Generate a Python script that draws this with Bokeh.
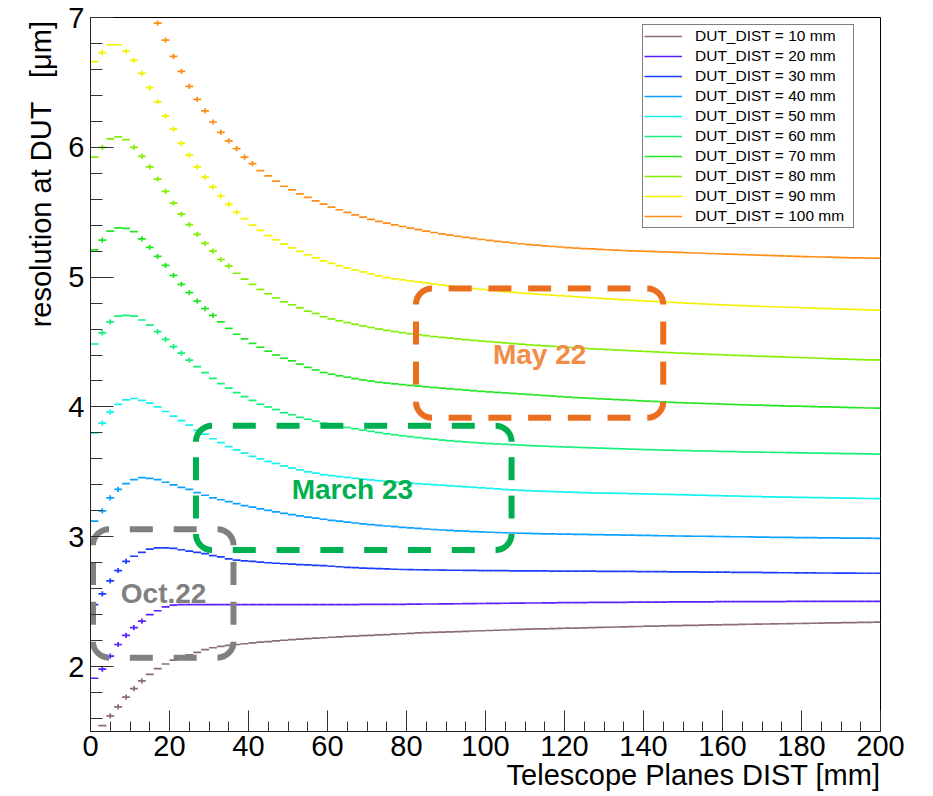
import numpy as np
from bokeh.plotting import figure
from bokeh.models import (FixedTicker, Legend, LegendItem, Label,
                          ColumnDataSource, Title)
from bokeh.embed import file_html
from bokeh.resources import INLINE

# ---------------- data ----------------
dut_dist = [10, 20, 30, 40, 50, 60, 70, 80, 90, 100]
series_labels = [f"DUT_DIST = {d} mm" for d in dut_dist]
bin_width = 2
first_bin = [3, 1, 1, 1, 1, 1, 1, 1, 1, 17]   # centre of first visible bin [mm]

res_10 = [1.546, 1.62, 1.69, 1.765, 1.83, 1.89, 1.94, 1.985, 2.02, 2.05,
          2.075, 2.09, 2.11, 2.13, 2.145, 2.155, 2.163, 2.17, 2.176, 2.182,
          2.188, 2.193, 2.198, 2.203, 2.207, 2.211, 2.215, 2.219, 2.222, 2.226,
          2.229, 2.232, 2.235, 2.238, 2.241, 2.244, 2.247, 2.25, 2.253, 2.256,
          2.259, 2.262, 2.264, 2.266, 2.268, 2.27, 2.272, 2.274, 2.276, 2.278,
          2.28, 2.282, 2.284, 2.286, 2.288, 2.29, 2.291, 2.293, 2.294, 2.296,
          2.297, 2.299, 2.3, 2.302, 2.303, 2.305, 2.306, 2.308, 2.309, 2.311,
          2.312, 2.313, 2.315, 2.316, 2.317, 2.318, 2.32, 2.321, 2.322, 2.323,
          2.324, 2.325, 2.326, 2.327, 2.328, 2.329, 2.33, 2.331, 2.332, 2.333,
          2.334, 2.335, 2.336, 2.337, 2.338, 2.339, 2.34, 2.341, 2.342]
res_20 = [1.91, 1.98, 2.08, 2.17, 2.24, 2.30, 2.35, 2.40, 2.43, 2.46,
          2.474, 2.477, 2.478, 2.477, 2.477, 2.477, 2.477, 2.477, 2.477, 2.477,
          2.477, 2.477, 2.477, 2.477, 2.477, 2.477, 2.477, 2.477, 2.477, 2.477,
          2.477, 2.478, 2.478, 2.478, 2.479, 2.479, 2.479, 2.48, 2.48, 2.48,
          2.481, 2.481, 2.482, 2.482, 2.483, 2.483, 2.484, 2.485, 2.485, 2.486,
          2.487, 2.487, 2.488, 2.489, 2.489, 2.49, 2.49, 2.491, 2.491, 2.492,
          2.492, 2.493, 2.493, 2.494, 2.494, 2.495, 2.495, 2.495, 2.496, 2.496,
          2.497, 2.497, 2.497, 2.498, 2.498, 2.498, 2.499, 2.499, 2.499, 2.5,
          2.5, 2.5, 2.5, 2.501, 2.501, 2.501, 2.501, 2.501, 2.502, 2.502,
          2.502, 2.502, 2.502, 2.502, 2.503, 2.503, 2.503, 2.503, 2.503, 2.503]
res_30 = [2.477, 2.56, 2.66, 2.74, 2.81, 2.85, 2.88, 2.905, 2.915, 2.915,
          2.91, 2.90, 2.89, 2.88, 2.87, 2.855, 2.845, 2.83, 2.82, 2.815,
          2.81, 2.805, 2.80, 2.796, 2.792, 2.789, 2.786, 2.783, 2.78, 2.777,
          2.773, 2.769, 2.765, 2.762, 2.759, 2.756, 2.754, 2.752, 2.75, 2.748,
          2.747, 2.746, 2.745, 2.744, 2.743, 2.742, 2.742, 2.741, 2.741, 2.74,
          2.74, 2.739, 2.739, 2.738, 2.738, 2.737, 2.737, 2.737, 2.736, 2.736,
          2.736, 2.735, 2.735, 2.735, 2.734, 2.734, 2.734, 2.733, 2.733, 2.732,
          2.732, 2.731, 2.731, 2.73, 2.73, 2.729, 2.729, 2.728, 2.728, 2.727,
          2.727, 2.726, 2.726, 2.725, 2.725, 2.724, 2.724, 2.723, 2.723, 2.722,
          2.722, 2.722, 2.721, 2.721, 2.72, 2.72, 2.72, 2.719, 2.719, 2.719]
res_40 = [3.12, 3.20, 3.30, 3.365, 3.41, 3.44, 3.455, 3.45, 3.44, 3.42,
          3.40, 3.38, 3.365, 3.34, 3.32, 3.30, 3.285, 3.27, 3.255, 3.24,
          3.228, 3.215, 3.203, 3.192, 3.181, 3.171, 3.161, 3.152, 3.143, 3.135,
          3.127, 3.12, 3.113, 3.106, 3.1, 3.094, 3.088, 3.083, 3.078, 3.073,
          3.068, 3.064, 3.06, 3.056, 3.052, 3.049, 3.046, 3.043, 3.04, 3.037,
          3.035, 3.033, 3.031, 3.029, 3.027, 3.026, 3.024, 3.023, 3.022, 3.021,
          3.02, 3.019, 3.018, 3.017, 3.016, 3.015, 3.014, 3.013, 3.012, 3.011,
          3.01, 3.009, 3.008, 3.007, 3.006, 3.005, 3.004, 3.004, 3.003, 3.002,
          3.001, 3.0, 3.0, 2.999, 2.998, 2.997, 2.996, 2.996, 2.995, 2.994,
          2.993, 2.993, 2.992, 2.991, 2.991, 2.99, 2.99, 2.989, 2.989, 2.988]
res_50 = [3.80, 3.875, 3.96, 4.02, 4.055, 4.065, 4.05, 4.03, 4.00, 3.965,
          3.93, 3.895, 3.86, 3.82, 3.79, 3.755, 3.725, 3.695, 3.67, 3.645,
          3.62, 3.60, 3.58, 3.565, 3.545, 3.53, 3.515, 3.50, 3.49, 3.478,
          3.471, 3.464, 3.457, 3.45, 3.444, 3.438, 3.432, 3.427, 3.422, 3.417,
          3.413, 3.409, 3.405, 3.401, 3.397, 3.393, 3.389, 3.385, 3.381, 3.377,
          3.373, 3.369, 3.364, 3.361, 3.358, 3.355, 3.352, 3.35, 3.348, 3.346,
          3.344, 3.342, 3.34, 3.338, 3.337, 3.336, 3.335, 3.334, 3.332, 3.331,
          3.33, 3.329, 3.327, 3.326, 3.324, 3.323, 3.321, 3.32, 3.318, 3.317,
          3.315, 3.314, 3.312, 3.311, 3.31, 3.308, 3.307, 3.306, 3.305, 3.304,
          3.303, 3.302, 3.301, 3.3, 3.299, 3.298, 3.297, 3.296, 3.295, 3.294]
res_60 = [4.485, 4.57, 4.655, 4.70, 4.705, 4.70, 4.67, 4.63, 4.58, 4.52,
          4.465, 4.415, 4.36, 4.31, 4.265, 4.22, 4.18, 4.145, 4.11, 4.08,
          4.05, 4.02, 4.00, 3.98, 3.955, 3.94, 3.92, 3.905, 3.89, 3.875,
          3.864, 3.853, 3.842, 3.832, 3.822, 3.812, 3.803, 3.794, 3.786, 3.778,
          3.771, 3.764, 3.757, 3.751, 3.745, 3.74, 3.735, 3.73, 3.726, 3.722,
          3.718, 3.715, 3.712, 3.709, 3.706, 3.703, 3.7, 3.698, 3.695, 3.693,
          3.691, 3.689, 3.687, 3.685, 3.683, 3.681, 3.679, 3.677, 3.675, 3.673,
          3.671, 3.67, 3.668, 3.667, 3.665, 3.664, 3.662, 3.661, 3.66, 3.658,
          3.657, 3.656, 3.654, 3.653, 3.652, 3.651, 3.65, 3.649, 3.648, 3.647,
          3.646, 3.645, 3.644, 3.643, 3.642, 3.641, 3.64, 3.639, 3.638, 3.637]
res_70 = [5.21, 5.285, 5.355, 5.38, 5.375, 5.35, 5.295, 5.23, 5.16, 5.09,
          5.013, 4.945, 4.88, 4.815, 4.757, 4.705, 4.655, 4.605, 4.56, 4.525,
          4.49, 4.46, 4.43, 4.40, 4.375, 4.355, 4.33, 4.305, 4.285, 4.265,
          4.252, 4.24, 4.229, 4.218, 4.208, 4.199, 4.19, 4.184, 4.178, 4.172,
          4.166, 4.161, 4.155, 4.15, 4.145, 4.14, 4.135, 4.13, 4.125, 4.12,
          4.116, 4.112, 4.108, 4.104, 4.1, 4.096, 4.092, 4.088, 4.084, 4.08,
          4.076, 4.072, 4.069, 4.066, 4.063, 4.06, 4.057, 4.054, 4.051, 4.048,
          4.045, 4.042, 4.039, 4.036, 4.033, 4.031, 4.029, 4.027, 4.025, 4.023,
          4.021, 4.019, 4.017, 4.015, 4.014, 4.012, 4.011, 4.009, 4.007, 4.006,
          4.004, 4.003, 4.001, 4.0, 3.998, 3.997, 3.995, 3.994, 3.992, 3.991]
res_80 = [5.925, 6.00, 6.065, 6.08, 6.06, 6.00, 5.93, 5.85, 5.755, 5.66,
          5.57, 5.485, 5.405, 5.33, 5.26, 5.20, 5.136, 5.085, 5.03, 4.985,
          4.944, 4.905, 4.872, 4.84, 4.81, 4.787, 4.764, 4.738, 4.72, 4.695,
          4.678, 4.664, 4.65, 4.637, 4.624, 4.612, 4.6, 4.59, 4.581, 4.572,
          4.564, 4.556, 4.549, 4.542, 4.536, 4.53, 4.524, 4.518, 4.513, 4.508,
          4.503, 4.498, 4.493, 4.488, 4.484, 4.479, 4.475, 4.471, 4.467, 4.463,
          4.459, 4.455, 4.452, 4.448, 4.445, 4.442, 4.439, 4.436, 4.433, 4.43,
          4.427, 4.424, 4.421, 4.418, 4.415, 4.413, 4.41, 4.408, 4.405, 4.403,
          4.4, 4.398, 4.396, 4.394, 4.391, 4.389, 4.387, 4.385, 4.383, 4.381,
          4.379, 4.377, 4.375, 4.373, 4.371, 4.369, 4.367, 4.365, 4.363, 4.362]
res_90 = [6.66, 6.73, 6.79, 6.79, 6.74, 6.67, 6.57, 6.46, 6.35, 6.24,
          6.14, 6.03, 5.94, 5.85, 5.77, 5.695, 5.625, 5.56, 5.50, 5.45,
          5.40, 5.36, 5.32, 5.287, 5.255, 5.226, 5.199, 5.172, 5.148, 5.125,
          5.106, 5.088, 5.071, 5.055, 5.04, 5.025, 5.01, 4.997, 4.987, 4.979,
          4.971, 4.963, 4.955, 4.947, 4.939, 4.932, 4.925, 4.918, 4.912, 4.906,
          4.9, 4.894, 4.888, 4.883, 4.878, 4.874, 4.869, 4.865, 4.861, 4.857,
          4.853, 4.849, 4.845, 4.841, 4.837, 4.833, 4.83, 4.826, 4.822, 4.819,
          4.815, 4.812, 4.809, 4.806, 4.803, 4.8, 4.797, 4.794, 4.791, 4.788,
          4.786, 4.783, 4.781, 4.778, 4.776, 4.774, 4.772, 4.77, 4.768, 4.766,
          4.764, 4.762, 4.76, 4.758, 4.756, 4.754, 4.752, 4.75, 4.748, 4.746]
res_100 = [6.956, 6.826, 6.70, 6.585, 6.47, 6.37, 6.28, 6.195, 6.115, 6.05,
           5.99, 5.925, 5.875, 5.82, 5.78, 5.74, 5.70, 5.672, 5.642, 5.614,
           5.588, 5.563, 5.54, 5.519, 5.499, 5.48, 5.462, 5.445, 5.43, 5.416,
           5.403, 5.39, 5.378, 5.366, 5.355, 5.344, 5.334, 5.324, 5.315, 5.306,
           5.298, 5.29, 5.283, 5.276, 5.269, 5.263, 5.257, 5.251, 5.246, 5.241,
           5.236, 5.232, 5.228, 5.224, 5.22, 5.217, 5.214, 5.211, 5.208, 5.205,
           5.203, 5.2, 5.198, 5.196, 5.194, 5.192, 5.19, 5.188, 5.186, 5.184,
           5.182, 5.18, 5.178, 5.176, 5.174, 5.172, 5.17, 5.168, 5.166, 5.164,
           5.162, 5.16, 5.158, 5.157, 5.155, 5.154, 5.152, 5.151, 5.149, 5.148,
           5.147, 5.146]

all_res = [res_10, res_20, res_30, res_40, res_50, res_60, res_70, res_80, res_90, res_100]

colors = ["#8c6c74", "#5a1eff", "#1a3cff", "#0aa0ff", "#10f2ee",
          "#14f078", "#22e622", "#80f000", "#f2f200", "#ff8c14"]

x_ticks = list(range(0, 201, 20))
x_minor = list(range(0, 201, 5))
y_ticks = [2, 3, 4, 5, 6, 7]
y_minor = [1.6, 1.8, 2.2, 2.4, 2.6, 2.8, 3.2, 3.4, 3.6, 3.8, 4.2, 4.4, 4.6, 4.8,
           5.2, 5.4, 5.6, 5.8, 6.2, 6.4, 6.6, 6.8]

# annotation boxes: (text, left, right, bottom, top, text_x, text_y, line colour, text colour)
boxes = [
    ("Oct.22",   0.63, 36.2, 2.069, 3.058, 18.5, 2.56, "#808080", "#808080"),
    ("March 23", 26.7, 106.6, 2.898, 3.855, 66.3, 3.362, "#00b050", "#00b050"),
    ("May 22",   82.4, 145.0, 3.917, 4.913, 113.7, 4.404, "#eb6e1e", "#f28c48"),
]

FONT = "Liberation Sans"
X_RANGE = (0, 200)
Y_RANGE = (1.5, 7)
FRAME_W, FRAME_H = 790, 714

# ---------------- figure ----------------
p = figure(width=933, height=796, x_range=X_RANGE, y_range=Y_RANGE,
           output_backend="svg", toolbar_location=None,
           min_border_left=90, min_border_right=53, min_border_top=17,
           min_border_bottom=65, background_fill_color="white",
           border_fill_color="white")
p.outline_line_color = "black"
p.outline_line_width = 1
p.grid.visible = False

for ax in (p.xaxis[0], p.yaxis[0]):
    ax.axis_line_color = "#222222"
    ax.major_tick_line_color = "#333333"
    ax.minor_tick_line_color = "#333333"
    ax.major_tick_out = 0
    ax.minor_tick_out = 0
    ax.major_label_text_font = FONT
    ax.major_label_text_font_size = "29px"
    ax.major_label_text_color = "black"

p.xaxis.ticker = FixedTicker(ticks=x_ticks, minor_ticks=x_minor)
p.xaxis.major_tick_in = 21
p.xaxis.minor_tick_in = 10
p.xaxis.major_label_standoff = 4
p.yaxis.ticker = FixedTicker(ticks=y_ticks, minor_ticks=y_minor)
p.yaxis.major_tick_in = 23
p.yaxis.minor_tick_in = 12
p.yaxis.major_label_standoff = 6

# ---------------- series ----------------
legend_items = []
for lbl, start, vals, col in zip(series_labels, first_bin, all_res, colors):
    y = np.array(vals, dtype=float)
    xc = start + bin_width * np.arange(len(y))
    src = ColumnDataSource(dict(x0=xc - bin_width / 2, x1=xc + bin_width / 2, y=y))
    r = p.segment(x0="x0", y0="y", x1="x1", y1="y", source=src,
                  line_color=col, line_width=1.7)
    # small vertical error bars on the steep part of each curve
    ex, elo, ehi = [], [], []
    for i in range(len(y)):
        a = y[max(i - 1, 0)]
        b = y[min(i + 1, len(y) - 1)]
        if abs(b - a) > 0.1:
            ex.append(xc[i]); elo.append(y[i] - 0.02); ehi.append(y[i] + 0.02)
    if ex:
        p.segment(x0=ex, y0=elo, x1=ex, y1=ehi, line_color=col, line_width=1.7)
    legend_items.append(LegendItem(label=lbl, renderers=[r]))

# ---------------- annotation boxes (rounded, dashed) ----------------
SX = FRAME_W / (X_RANGE[1] - X_RANGE[0])     # px per data unit
SY = FRAME_H / (Y_RANGE[1] - Y_RANGE[0])
RAD, DASH, GAP, LW = 16, 23, 19, 6


def dashes(p0, p1):
    """evenly spread dashes (pixel intervals) between p0 and p1"""
    length = p1 - p0
    n = max(1, int(round((length - GAP) / (DASH + GAP))))
    g = (length - n * DASH) / (n + 1)
    return [(p0 + g + k * (DASH + g), p0 + g + k * (DASH + g) + DASH) for k in range(n)]


for text, L, R, B, T, tx, ty, lc, tc in boxes:
    rx, ry = RAD / SX, RAD / SY
    # corners: quarter arcs
    p.arc(x=[L + rx, R - rx, R - rx, L + rx], y=[T - ry, T - ry, B + ry, B + ry],
          radius=RAD, radius_units="screen",
          start_angle=[90, 0, 270, 180], end_angle=[180, 90, 360, 270],
          start_angle_units="deg", end_angle_units="deg", direction="anticlock",
          line_color=lc, line_width=LW)
    # straight edges
    x0s, y0s, x1s, y1s = [], [], [], []
    for a, b in dashes(L * SX + RAD, R * SX - RAD):
        for yy in (T, B):
            x0s.append(a / SX); x1s.append(b / SX); y0s.append(yy); y1s.append(yy)
    for a, b in dashes(B * SY + RAD, T * SY - RAD):
        for xx in (L, R):
            x0s.append(xx); x1s.append(xx); y0s.append(a / SY); y1s.append(b / SY)
    p.segment(x0=x0s, y0=y0s, x1=x1s, y1=y1s, line_color=lc, line_width=LW,
              line_cap="butt")
    p.add_layout(Label(x=tx, y=ty, text=text, text_align="center",
                       text_baseline="middle", text_font=FONT,
                       text_font_style="bold", text_font_size="28px",
                       text_color=tc))

legend = Legend(items=legend_items, location=(552, 503),
                border_line_color="black", border_line_width=1,
                background_fill_color="white", background_fill_alpha=1,
                padding=1, spacing=0, margin=0,
                glyph_width=38, glyph_height=20, label_height=20,
                label_standoff=13, label_width=157,
                label_text_font=FONT, label_text_font_size="15.5px",
                label_text_color="black")
p.add_layout(legend)

# ---------------- axis titles ----------------
p.add_layout(Title(text="Telescope Planes DIST [mm]", align="right",
                   vertical_align="top", standoff=1, offset=0,
                   text_font=FONT, text_font_size="29px",
                   text_font_style="normal", text_color="black"), "below")
p.add_layout(Title(text="resolution at DUT \u00a0 [\u03bcm]", align="right",
                   vertical_align="bottom", standoff=18, offset=3,
                   text_font=FONT, text_font_size="29px",
                   text_font_style="normal", text_color="black"), "left")

open("out.html", "w").write(file_html(p, INLINE))
